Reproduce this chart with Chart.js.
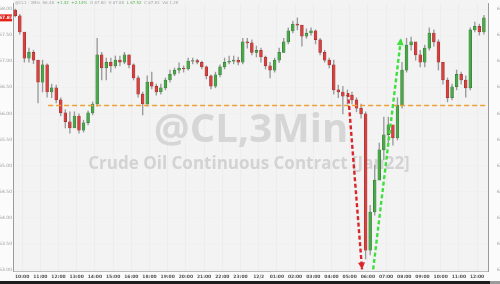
<!DOCTYPE html>
<html>
<head>
<meta charset="utf-8">
<script src="https://cdn.jsdelivr.net/npm/chart.js@4/dist/chart.umd.min.js"></script>
<style>
html,body{margin:0;padding:0;background:#fafafa;}
#wrap{position:relative;width:500px;height:284px;}
</style>
</head>
<body>
<div id="wrap"><canvas id="c" width="500" height="284"></canvas></div>
<script>
// ---- data ----
const hourLabels = ["10:00","11:00","12:00","13:00","14:00","15:00","16:00","18:00","19:00","20:00","21:00","22:00","23:00","12/2","01:00","02:00","03:00","04:00","05:00","06:00","07:00","08:00","09:00","10:00","11:00","12:00"];
const yTicks = [63.00,63.50,64.00,64.50,65.00,65.50,66.00,66.50,67.00,67.50,68.00];
const firstOpen = 67.98;
const closes = [67.87,67.56,67.06,67.17,67.02,66.60,66.93,66.41,66.49,66.26,
  66.01,65.84,65.72,65.95,65.68,65.82,66.01,66.18,67.12,66.87,
  66.98,66.91,67.02,66.98,67.12,66.93,66.68,66.37,66.18,66.60,
  66.52,66.41,66.49,66.64,66.75,66.83,66.87,66.85,67.00,67.01,
  66.98,66.89,66.72,66.52,66.74,66.89,66.98,67.00,67.02,66.98,
  67.37,67.35,67.17,67.21,67.08,66.91,66.83,67.02,67.17,67.37,
  67.58,67.71,67.69,67.48,67.54,67.58,67.41,67.17,67.02,66.93,
  66.45,66.41,66.33,66.35,66.26,66.10,65.99,63.38,64.11,64.72,
  65.30,65.59,65.78,65.53,66.16,66.83,67.31,67.37,67.12,66.98,
  67.25,67.54,67.37,66.98,66.64,66.30,66.51,66.75,66.64,66.49,
  67.60,67.67,67.56,67.83];
const highs = [68.00,67.90,67.25,67.25,67.21,66.98,67.02,66.95,66.56,66.54,
  66.30,66.07,66.03,66.03,65.99,65.87,66.05,66.22,67.44,67.17,
  67.06,67.06,67.10,67.10,67.17,67.12,66.95,66.72,66.41,66.72,
  66.79,66.56,66.56,66.68,66.83,66.87,66.97,66.91,67.06,67.06,
  67.04,67.00,66.91,66.74,66.79,66.93,67.06,67.10,67.10,67.08,
  67.44,67.44,67.41,67.29,67.25,67.10,66.98,67.06,67.25,67.44,
  67.64,67.77,67.83,67.67,67.62,67.64,67.60,67.44,67.21,67.06,
  67.02,66.54,66.52,66.45,66.41,66.30,66.18,66.03,64.24,65.01,
  65.43,65.93,65.93,65.72,66.30,66.98,67.44,67.46,67.31,67.21,
  67.31,67.64,67.60,67.41,66.98,66.68,66.56,66.83,66.79,66.72,
  67.64,67.75,67.71,67.88];
const lows = [67.85,67.52,66.98,66.98,66.95,66.20,66.41,66.31,66.30,66.20,
  65.95,65.72,65.62,65.84,65.62,65.64,65.78,65.97,66.14,66.64,
  66.64,66.79,66.87,66.91,66.95,66.87,66.64,66.31,65.97,66.14,
  66.47,66.35,66.37,66.45,66.60,66.72,66.77,66.79,66.83,66.95,
  66.95,66.85,66.66,66.47,66.49,66.70,66.85,66.95,66.95,66.93,
  66.95,67.25,67.12,67.08,66.98,66.85,66.68,66.79,66.97,67.17,
  67.33,67.54,67.60,67.29,67.44,67.50,67.33,67.12,66.98,66.87,
  66.37,66.30,65.99,66.18,66.18,66.03,65.91,63.21,63.29,64.05,
  65.01,65.11,65.43,65.39,65.49,66.10,66.79,67.21,67.02,66.89,
  66.89,67.21,67.29,66.83,66.56,66.22,66.26,66.45,66.56,66.31,
  66.45,67.56,67.50,67.52];
const supportLevel = 66.15;
const supportFrom = 1.43;
const redArrow = [{x:17.91,y:66.39},{x:18.68,y:63.01}];
const greenArrow = [{x:19.29,y:63.01},{x:20.82,y:67.44}];

// ---- build ----
const UP = '#4aa84a', DOWN = '#d8413f';
const bodies = [], wicks = [], bodyColors = [], bodyBorders = [];
for (let i = 0; i < closes.length; i++) {
  const t = -0.375 + 0.25 * i; // 15-minute slot centre, in hour-label units
  const o = i === 0 ? firstOpen : closes[i - 1];
  const c = closes[i];
  bodies.push({x: t, y: [o, c]});
  wicks.push({x: t, y: [lows[i], highs[i]]});
  const up = c >= o;
  bodyColors.push(up ? UP : DOWN);
  bodyBorders.push(up ? '#2f6e2f' : '#8a2a28');
}
const lastClose = closes[closes.length - 1];

const decor = {
  id: 'decor',
  beforeDraw(chart) {
    const {ctx, chartArea: a, width, height} = chart;
    ctx.save();
    ctx.fillStyle = '#fbfbfb';
    ctx.fillRect(0, 0, width, height);
    ctx.fillStyle = '#f3f3f3';
    ctx.fillRect(a.left, 0, a.right - a.left, a.bottom);
    ctx.restore();
  },
  beforeDatasetsDraw(chart) {
    const {ctx} = chart;
    ctx.save();
    ctx.textAlign = 'center';
    ctx.textBaseline = 'alphabetic';
    ctx.fillStyle = '#d6d6d6';
    ctx.font = 'bold 40px "Open Sans"';
    ctx.fillText('@CL,3Min', 251, 142);
    ctx.fillStyle = '#d3d3d3';
    ctx.font = 'bold 17px "Open Sans"';
    ctx.fillText('Crude Oil Continuous Contract [Jan22]', 249, 169);
    ctx.restore();
  },
  afterDatasetsDraw(chart) {
    const {ctx} = chart;
    const xs = chart.scales.x, ys = chart.scales.y;
    const head = (pts, color) => {
      const x0 = xs.getPixelForValue(pts[0].x), y0 = ys.getPixelForValue(pts[0].y);
      const x1 = xs.getPixelForValue(pts[1].x), y1 = ys.getPixelForValue(pts[1].y);
      const ang = Math.atan2(y1 - y0, x1 - x0);
      const L = 7, W = 3.5;
      ctx.save();
      ctx.fillStyle = color;
      ctx.beginPath();
      ctx.moveTo(x1, y1);
      ctx.lineTo(x1 - L * Math.cos(ang) + W * Math.sin(ang), y1 - L * Math.sin(ang) - W * Math.cos(ang));
      ctx.lineTo(x1 - L * Math.cos(ang) - W * Math.sin(ang), y1 - L * Math.sin(ang) + W * Math.cos(ang));
      ctx.closePath();
      ctx.fill();
      ctx.restore();
    };
    head(redArrow, '#d9262b');
    head(greenArrow, '#3ee03e');
  },
  afterDraw(chart) {
    const {ctx, chartArea: a} = chart;
    const ys = chart.scales.y;
    ctx.save();
    ctx.fillStyle = '#1c1c1c';
    ctx.fillRect(0, 281, 490, 3);
    ctx.fillStyle = '#9a9a9a';
    ctx.fillRect(490, 281, 10, 3);
    const py = ys.getPixelForValue(lastClose);
    ctx.fillStyle = '#e2231a';
    ctx.fillRect(0, py - 3.5, 12, 7);
    ctx.fillStyle = '#ffffff';
    ctx.font = 'bold 4.5px "DejaVu Sans"';
    ctx.textAlign = 'center';
    ctx.textBaseline = 'middle';
    ctx.fillText(lastClose.toFixed(2), 6, py);
    ctx.textAlign = 'left';
    ctx.font = '4px "DejaVu Sans"';
    let x = a.left + 2;
    const parts = [
      ['@CL1 · 3Min  66.48', '#a8a8a8'],
      ['  +1.42  +2.14%', '#56b656'],
      ['  O 67.80  H 67.88', '#a8a8a8'],
      ['  L 67.52', '#56b656'],
      ['  C 67.83  Vol 1.2K', '#a8a8a8']
    ];
    for (const [t, col] of parts) {
      ctx.fillStyle = col;
      ctx.fillText(t, x, 3);
      x += ctx.measureText(t).width;
    }
    ctx.restore();
  }
};

new Chart(document.getElementById('c'), {
  type: 'bar',
  data: {
    datasets: [
      {type: 'line', data: [{x: supportFrom, y: supportLevel}, {x: 25.6, y: supportLevel}],
       borderColor: '#f0a030', borderWidth: 1.6, borderDash: [5, 3], pointRadius: 0, order: -1},
      {type: 'line', data: redArrow, borderColor: '#d9262b', borderWidth: 2.4,
       borderDash: [4, 2.5], pointRadius: 0, order: -2},
      {type: 'line', data: greenArrow, borderColor: '#3ee03e', borderWidth: 2.4,
       borderDash: [4, 2.5], pointRadius: 0, order: -2},
      {data: bodies, backgroundColor: bodyColors, borderColor: bodyBorders, borderWidth: 0.5,
       barThickness: 2.8, grouped: false, order: 0, borderSkipped: false},
      {data: wicks, backgroundColor: '#9a9a9a', barThickness: 0.7, grouped: false, order: 1}
    ]
  },
  options: {
    responsive: false,
    animation: false,
    events: [],
    layout: {padding: {top: 3, left: 0, right: 0, bottom: 0}, autoPadding: false},
    plugins: {legend: {display: false}, tooltip: {enabled: false}},
    scales: {
      x: {
        type: 'linear', min: -0.5, max: 25.6, offset: false,
        grid: {color: '#e9e9e9', lineWidth: 0.6, drawTicks: false, offset: false},
        border: {color: '#bdbdbd'},
        ticks: {
          stepSize: 1, autoSkip: false, maxRotation: 0, includeBounds: false, padding: 3,
          color: '#555', font: {size: 4.5, family: 'DejaVu Sans', weight: 'bold'},
          callback: (v) => Number.isInteger(v) && hourLabels[v] !== undefined ? hourLabels[v] : ''
        },
        afterFit: (s) => { s.height = 13; }
      },
      y: {
        position: 'left', min: 62.98, max: 68.115,
        grid: {color: '#ececec', lineWidth: 0.5, drawTicks: false},
        border: {color: '#9a9a9a', width: 1},
        afterBuildTicks: (s) => { s.ticks = yTicks.map(v => ({value: v})); },
        ticks: {color: '#9a9a9a', padding: 1, font: {size: 4.5, family: 'DejaVu Sans'},
                callback: (v) => Number(v).toFixed(2)},
        afterFit: (s) => { s.width = 13; s.paddingTop = 0; s.paddingBottom = 0; }
      },
      y2: {
        position: 'right', min: 62.98, max: 68.115,
        grid: {display: false},
        border: {color: '#9a9a9a', width: 1},
        afterBuildTicks: (s) => { s.ticks = yTicks.map(v => ({value: v})); },
        ticks: {color: '#9a9a9a', padding: 1, font: {size: 4.5, family: 'DejaVu Sans'},
                callback: (v) => Number(v).toFixed(2)},
        afterFit: (s) => { s.width = 12; s.paddingTop = 0; s.paddingBottom = 0; }
      }
    }
  },
  plugins: [decor]
});
</script>
</body>
</html>
